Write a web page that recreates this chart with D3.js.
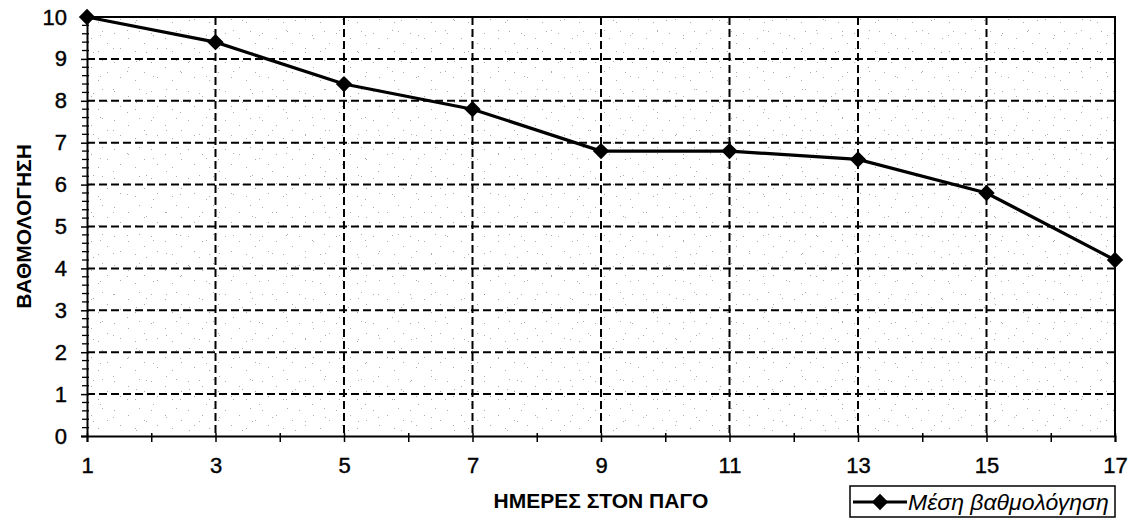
<!DOCTYPE html>
<html>
<head>
<meta charset="utf-8">
<script src="https://cdn.jsdelivr.net/npm/d3@7"></script>
<style>
  html, body { margin: 0; padding: 0; background: #fff; }
  svg { display: block; }
  text { font-family: "Liberation Sans", Arial, sans-serif; fill: #000; }
</style>
</head>
<body>
<svg id="chart" width="1133" height="522"></svg>
<script>
// Days on ice and mean score
const days = [1, 3, 5, 7, 9, 11, 13, 15, 17];
const meanScore = [10, 9.4, 8.4, 7.8, 6.8, 6.8, 6.6, 5.8, 4.2];
const xTickLabels = [1, 3, 5, 7, 9, 11, 13, 15, 17];
const yTickLabels = [0, 1, 2, 3, 4, 5, 6, 7, 8, 9, 10];
const xTitle = "ΗΜΕΡΕΣ ΣΤΟΝ ΠΑΓΟ";
const yTitle = "ΒΑΘΜΟΛΟΓΗΣΗ";
const seriesName = "Μέση βαθμολόγηση";

const svg = d3.select("#chart");
const plot = { left: 87, right: 1115, top: 17, bottom: 436 };

const x = d3.scaleLinear().domain([1, 17]).range([plot.left, plot.right]);
const y = d3.scaleLinear().domain([0, 10]).range([plot.bottom, plot.top]);

// speckled plot-area texture
const defs = svg.append("defs");
function speckle(id, w, h, dots) {
  const p = defs.append("pattern").attr("id", id)
    .attr("patternUnits", "userSpaceOnUse").attr("width", w).attr("height", h);
  dots.forEach(([cx, cy, r]) => p.append("rect")
    .attr("x", cx).attr("y", cy).attr("width", r).attr("height", r).attr("fill", "#444"));
}
speckle("sp1", 37, 29, [[3,4,1],[17,9,1],[28,2,1],[9,19,1],[24,22,1],[33,14,1]]);
speckle("sp2", 53, 41, [[7,7,1],[21,30,1],[40,11,1],[47,35,1],[30,20,1]]);
["sp1", "sp2"].forEach(id => svg.append("rect")
  .attr("x", plot.left).attr("y", plot.top)
  .attr("width", plot.right - plot.left).attr("height", plot.bottom - plot.top)
  .attr("fill", `url(#${id})`).attr("opacity", 0.45));

// dashed gridlines
const grid = svg.append("g").attr("stroke", "#000").attr("stroke-width", 2)
  .attr("stroke-dasharray", "8,4");
grid.selectAll(".gy").data(yTickLabels.filter(v => v > 0 && v < 10)).join("line")
  .attr("x1", plot.left).attr("x2", plot.right)
  .attr("y1", d => y(d)).attr("y2", d => y(d));
grid.selectAll(".gx").data(xTickLabels.filter(v => v > 1 && v < 17)).join("line")
  .attr("y1", plot.top).attr("y2", plot.bottom)
  .attr("x1", d => x(d)).attr("x2", d => x(d));

// plot frame (top and right)
svg.append("path")
  .attr("d", `M${plot.left},${plot.top}H${plot.right}V${plot.bottom}`)
  .attr("fill", "none").attr("stroke", "#000").attr("stroke-width", 2);

// left axis: major ticks with labels, minor ticks every 0.2
const yAxis = svg.append("g").attr("transform", `translate(${plot.left},0)`)
  .call(d3.axisLeft(y).tickValues(yTickLabels).tickFormat(d3.format("d"))
    .tickSize(6).tickPadding(14));
yAxis.select(".domain").attr("stroke-width", 2);
yAxis.selectAll(".tick line").attr("x2", -6).attr("x1", 2).attr("stroke-width", 1.5);
yAxis.selectAll(".tick text").attr("font-size", 22)
  .attr("font-family", "Liberation Sans, Arial, sans-serif")
  .attr("stroke", "#000").attr("stroke-width", 0.4);
const yMinor = d3.range(0, 50).map(i => i * 0.2).filter(v => Math.abs(v - Math.round(v)) > 1e-6);
svg.append("g").selectAll("line").data(yMinor).join("line")
  .attr("x1", plot.left - 5).attr("x2", plot.left + 2)
  .attr("y1", d => y(d)).attr("y2", d => y(d))
  .attr("stroke", "#000").attr("stroke-width", 1.3);

// bottom axis: labels at odd days, ticks every day
const xAxis = svg.append("g").attr("transform", `translate(0,${plot.bottom})`)
  .call(d3.axisBottom(x).tickValues(d3.range(1, 18)).tickFormat(d => xTickLabels.includes(d) ? d : "")
    .tickSize(6).tickPadding(15));
xAxis.select(".domain").attr("stroke-width", 2);
xAxis.selectAll(".tick line").attr("y1", -3).attr("y2", 6).attr("stroke-width", 1.5);
xAxis.selectAll(".tick text").attr("font-size", 22)
  .attr("font-family", "Liberation Sans, Arial, sans-serif")
  .attr("stroke", "#000").attr("stroke-width", 0.4);

// series line and diamond markers
const line = d3.line().x((d, i) => x(days[i])).y(d => y(d));
svg.append("path").datum(meanScore).attr("d", line)
  .attr("fill", "none").attr("stroke", "#000").attr("stroke-width", 3.2);
const diamond = d3.symbol().type(d3.symbolDiamond2).size(170);
svg.append("g").selectAll("path").data(meanScore).join("path")
  .attr("d", diamond)
  .attr("transform", (d, i) => `translate(${x(days[i])},${y(d)})`)
  .attr("fill", "#000");

// axis titles
svg.append("text").attr("x", (plot.left + plot.right) / 2).attr("y", 508)
  .attr("text-anchor", "middle").attr("font-size", 21).attr("font-weight", "bold")
  .text(xTitle);
svg.append("text")
  .attr("transform", `translate(31,${(plot.top + plot.bottom) / 2}) rotate(-90)`)
  .attr("text-anchor", "middle").attr("font-size", 21).attr("font-weight", "bold")
  .text(yTitle);

// legend
const lg = svg.append("g").attr("transform", "translate(850,486)");
lg.append("rect").attr("width", 265).attr("height", 31)
  .attr("fill", "#fff").attr("stroke", "#000").attr("stroke-width", 1.5);
lg.append("line").attr("x1", 3).attr("x2", 57).attr("y1", 16).attr("y2", 16)
  .attr("stroke", "#000").attr("stroke-width", 3);
lg.append("path").attr("d", diamond).attr("transform", "translate(30,16)")
  .attr("fill", "#000");
lg.append("text").attr("x", 58).attr("y", 24).attr("font-size", 23)
  .attr("font-style", "italic").text(seriesName);
</script>
</body>
</html>
